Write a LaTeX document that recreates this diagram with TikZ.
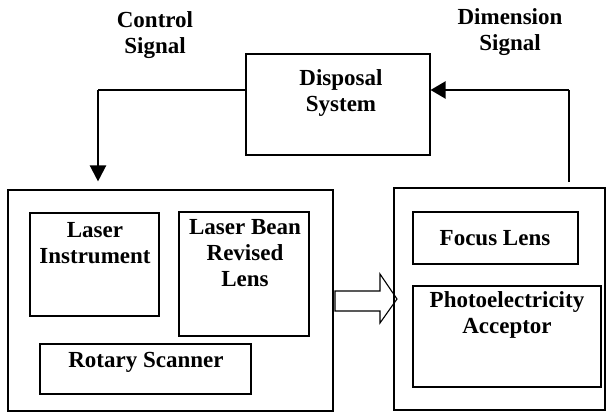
\documentclass[tikz,border=0pt]{standalone}
\usepackage{fontspec}
\setmainfont{Liberation Serif}
\usetikzlibrary{arrows.meta}
\begin{document}
\begin{tikzpicture}[x=1pt,y=-1pt,
  box/.style={draw,line width=1.1pt,rectangle,inner sep=0pt},
  lbl/.style={font=\bfseries\fontsize{23}{26}\selectfont,align=center,inner sep=0pt},
  sig/.style={line width=2.2pt,-{Triangle[length=16pt,width=16pt]}}]
\useasboundingbox (0,0) rectangle (611,413);
% boxes
\node[box,minimum width=184pt,minimum height=101pt] (disp) at (338,104.5) {};
\node[box,minimum width=325pt,minimum height=221pt] (left) at (170.5,300.5) {};
\node[box,minimum width=129pt,minimum height=103pt] (laser) at (94.5,264.5) {};
\node[box,minimum width=130pt,minimum height=124pt] (bean) at (244,274) {};
\node[box,minimum width=211pt,minimum height=50pt] (rotary) at (145.5,369) {};
\node[box,minimum width=211pt,minimum height=222pt] (right) at (499.5,299) {};
\node[box,minimum width=165pt,minimum height=52pt] (focus) at (495.5,238) {};
\node[box,minimum width=188pt,minimum height=101pt] (photo) at (507,336.5) {};
% labels
\node[lbl] (tctl) at (155,35) {Control\\Signal};
\node[lbl] (tdim) at (510,32) {Dimension\\Signal};
\node[lbl] (tdisp) at (341,93) {Disposal\\System};
\node[lbl] (tlaser) at (95,243) {Laser\\Instrument};
\node[lbl] (tbean) at (245,253) {Laser Bean\\Revised\\Lens};
\node[lbl] (trot) at (146,362) {Rotary Scanner};
\node[lbl] (tfocus) at (495,238) {Focus Lens};
\node[lbl] (tphoto) at (507,315) {Photoelectricity\\Acceptor};
% control signal
\coordinate (c1) at (98,90);
\draw[line width=1.1pt] (disp.west |- c1) -- (c1);
\draw[sig,shorten >=8pt] (c1) -- (c1 |- left.north);
% dimension signal
\coordinate (d1) at (569,90);
\coordinate (d0) at (569,182);
\draw[line width=1.1pt] (d0) -- (d1);
\draw[sig,-{Triangle[length=15pt,width=17pt]}] (d1) -- (disp.east |- d1);
% block arrow
\coordinate (b0) at (335,301);
\draw[line width=1.1pt] (b0 |- 0,291) -- (380,291) -- (380,274) -- (397,299) -- (380,323) -- (380,311) -- (b0 |- 0,311) -- cycle;
\end{tikzpicture}
\end{document}
